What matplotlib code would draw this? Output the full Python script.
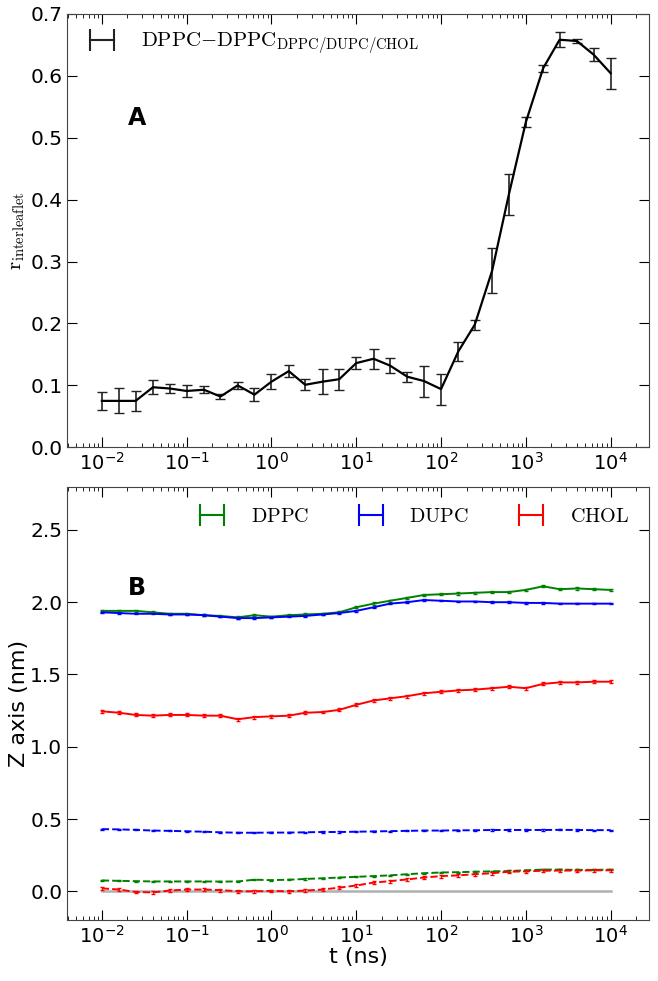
import matplotlib
matplotlib.use('Agg')
import matplotlib.pyplot as plt
from matplotlib.lines import Line2D
from matplotlib.ticker import NullFormatter

plt.rcParams['mathtext.fontset'] = 'cm'

# panel A
t = [0.01, 0.016, 0.025, 0.04, 0.063, 0.1, 0.16, 0.25, 0.4, 0.63,
     1, 1.6, 2.5, 4, 6.3, 10, 16, 25, 40, 63,
     100, 160, 250, 400, 630, 1000, 1600, 2500, 4000, 6300, 10000]
r_inter = [0.075, 0.075, 0.075, 0.097, 0.095, 0.091, 0.093, 0.082, 0.100, 0.085,
           0.106, 0.123, 0.101, 0.106, 0.110, 0.136, 0.143, 0.132, 0.114, 0.107,
           0.094, 0.155, 0.198, 0.285, 0.408, 0.525, 0.612, 0.658, 0.656, 0.634, 0.604]
r_err = [0.014, 0.020, 0.016, 0.011, 0.007, 0.010, 0.006, 0.004, 0.006, 0.011,
         0.012, 0.010, 0.009, 0.020, 0.017, 0.010, 0.016, 0.012, 0.008, 0.025,
         0.025, 0.015, 0.008, 0.036, 0.033, 0.008, 0.006, 0.012, 0.004, 0.010, 0.025]

# panel B, solid = upper leaflet, dashed = lower leaflet
dppc_up = [1.94, 1.94, 1.94, 1.93, 1.92, 1.92, 1.91, 1.905, 1.895, 1.91,
           1.90, 1.91, 1.915, 1.92, 1.93, 1.965, 1.99, 2.01, 2.03, 2.05,
           2.055, 2.06, 2.065, 2.07, 2.07, 2.085, 2.11, 2.09, 2.095, 2.09, 2.085]
dppc_up_err = [0.008] * 31
dupc_up = [1.93, 1.925, 1.92, 1.92, 1.915, 1.915, 1.91, 1.90, 1.89, 1.89,
           1.895, 1.90, 1.905, 1.915, 1.925, 1.94, 1.965, 1.99, 2.00, 2.015,
           2.01, 2.005, 2.005, 2.00, 2.00, 1.995, 1.995, 1.99, 1.99, 1.99, 1.99]
dupc_up_err = [0.005] * 31
chol_up = [1.245, 1.235, 1.22, 1.215, 1.22, 1.22, 1.215, 1.215, 1.19, 1.205,
           1.21, 1.215, 1.235, 1.24, 1.255, 1.29, 1.32, 1.335, 1.35, 1.37,
           1.38, 1.39, 1.395, 1.405, 1.415, 1.405, 1.435, 1.445, 1.445, 1.45, 1.45]
chol_up_err = [0.01] * 31
dppc_lo = [0.075, 0.072, 0.070, 0.068, 0.068, 0.068, 0.068, 0.067, 0.068, 0.080,
           0.077, 0.080, 0.085, 0.090, 0.095, 0.100, 0.105, 0.110, 0.118, 0.125,
           0.130, 0.132, 0.135, 0.138, 0.140, 0.145, 0.150, 0.150, 0.148, 0.148, 0.150]
dppc_lo_err = [0.004] * 31
dupc_lo = [0.430, 0.428, 0.425, 0.420, 0.418, 0.415, 0.412, 0.408, 0.405, 0.405,
           0.406, 0.406, 0.408, 0.410, 0.410, 0.412, 0.414, 0.416, 0.418, 0.420,
           0.420, 0.422, 0.422, 0.424, 0.424, 0.424, 0.424, 0.425, 0.424, 0.423, 0.423]
dupc_lo_err = [0.004] * 31
chol_lo = [0.020, 0.012, -0.005, -0.008, 0.005, 0.012, 0.012, 0.008, 0.000, 0.000,
           0.002, 0.000, 0.005, 0.012, 0.025, 0.040, 0.060, 0.070, 0.082, 0.095,
           0.105, 0.110, 0.118, 0.125, 0.135, 0.138, 0.142, 0.143, 0.143, 0.145, 0.145]
chol_lo_err = [0.01] * 31

xticks = [1e-2, 1e-1, 1e0, 1e1, 1e2, 1e3, 1e4]

fig = plt.figure(figsize=(6.58, 9.81), dpi=100)
ax1 = fig.add_axes([0.102, 0.544, 0.884, 0.442])
ax2 = fig.add_axes([0.102, 0.062, 0.884, 0.442])


def bar_handle(c):
    # legend handle drawn as |---|
    return Line2D([], [], color=c, lw=1.5, marker='|', markersize=16, markeredgewidth=1.5)


ax1.errorbar(t, r_inter, yerr=r_err, color='black', ecolor='#222222', elinewidth=1.2,
             lw=1.6, capsize=3.5)
ax1.set_ylim(0, 0.7)
ax1.set_yticks([0.0, 0.1, 0.2, 0.3, 0.4, 0.5, 0.6, 0.7])
ax1.set_ylabel(r'$\mathrm{r_{interleaflet}}$', fontsize=15, labelpad=2)
ax1.text(0.105, 0.76, 'A', transform=ax1.transAxes, fontsize=17, fontweight='bold',
         va='center')
ax1.legend([bar_handle('#222222')], [r'$\mathrm{DPPC{-}DPPC_{DPPC/DUPC/CHOL}}$'],
           loc='upper left', frameon=False, fontsize=15, numpoints=2,
           handlelength=1.75, handletextpad=1.0, borderaxespad=0.4)

ax2.errorbar(t, dppc_up, yerr=dppc_up_err, color='green', lw=1.4, elinewidth=0.8, capsize=1.2)
ax2.errorbar(t, dupc_up, yerr=dupc_up_err, color='blue', lw=1.4, elinewidth=0.8, capsize=1.2)
ax2.errorbar(t, chol_up, yerr=chol_up_err, color='red', lw=1.4, elinewidth=0.8, capsize=1.2)
ax2.errorbar(t, dppc_lo, yerr=dppc_lo_err, color='green', lw=1.4, ls='--',
             elinewidth=0.8, capsize=1.2)
ax2.errorbar(t, dupc_lo, yerr=dupc_lo_err, color='blue', lw=1.4, ls='--',
             elinewidth=0.8, capsize=1.2)
ax2.errorbar(t, chol_lo, yerr=chol_lo_err, color='red', lw=1.4, ls='--',
             elinewidth=0.8, capsize=1.2)
ax2.plot([t[0], t[-1]], [0, 0], color='#b0b0b0', lw=1.8, zorder=0)
ax2.set_ylim(-0.2, 2.8)
ax2.set_yticks([0.0, 0.5, 1.0, 1.5, 2.0, 2.5])
ax2.set_ylabel('Z axis (nm)', fontsize=16, labelpad=1)
ax2.set_xlabel('t (ns)', fontsize=16, labelpad=0)
ax2.text(0.105, 0.767, 'B', transform=ax2.transAxes, fontsize=17, fontweight='bold',
         va='center')
ax2.legend([bar_handle('green'), bar_handle('blue'), bar_handle('red')],
           [r'$\mathrm{DPPC}$', r'$\mathrm{DUPC}$', r'$\mathrm{CHOL}$'],
           loc='upper right', ncol=3, frameon=False,
           fontsize=14.5, numpoints=2, handlelength=1.8, handletextpad=1.0,
           columnspacing=2.2, borderaxespad=0.6)

for ax in (ax1, ax2):
    ax.set_xscale('log')
    ax.set_xlim(10**-2.41, 10**4.45)
    ax.set_xticks(xticks)
    ax.xaxis.set_minor_formatter(NullFormatter())
    ax.tick_params(which='both', direction='in', top=True, right=True, labelsize=14)
    ax.tick_params(axis='y', labelsize=14.5)
    ax.tick_params(which='major', length=7)
    ax.tick_params(which='minor', length=3)
    for s in ax.spines.values():
        s.set_color('#444444')

fig.savefig('out.png', dpi=100)
